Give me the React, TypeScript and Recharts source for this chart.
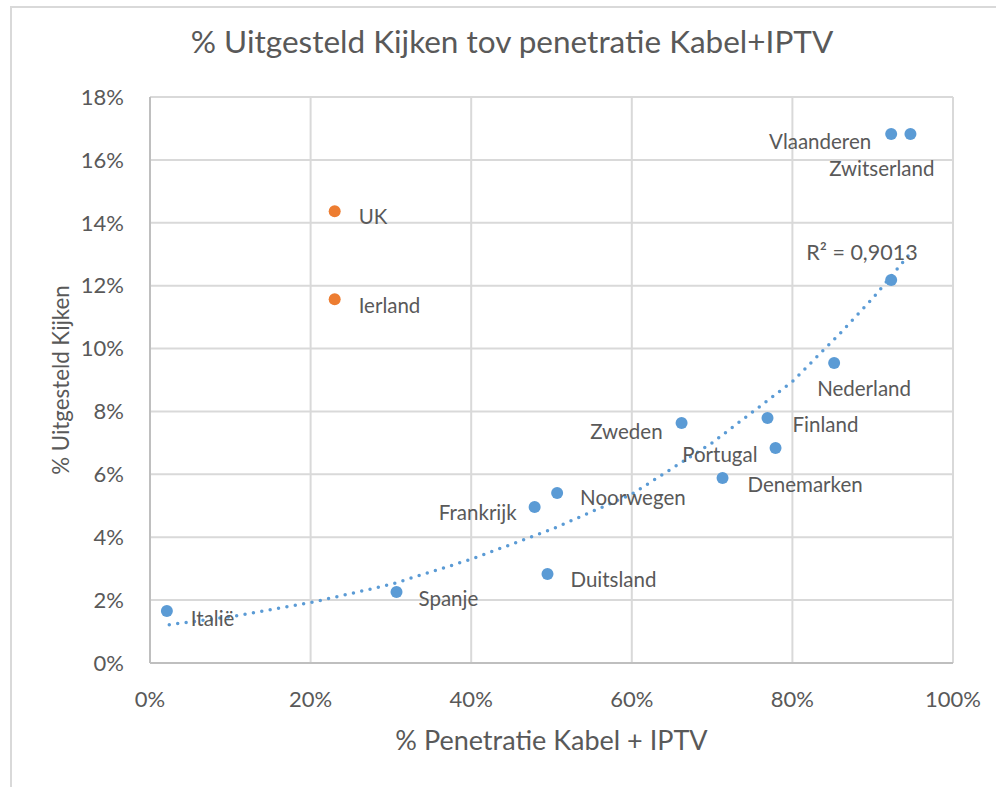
import { ScatterChart, Scatter, XAxis, YAxis, CartesianGrid } from 'recharts'

// blue series: countries on the trend
const countries = ['Italië', 'Spanje', 'Frankrijk', 'Noorwegen', 'Duitsland', 'Zweden', 'Denemarken', 'Finland', 'Portugal', 'Nederland', '', 'Vlaanderen', 'Zwitserland']
const penetratie = [2.1, 30.7, 47.9, 50.7, 49.5, 66.2, 71.3, 76.9, 77.9, 85.2, 92.3, 92.3, 94.7]
const uitgesteld = [1.65, 2.26, 4.96, 5.41, 2.83, 7.63, 5.88, 7.79, 6.84, 9.54, 12.18, 16.82, 16.82]

// orange series: outliers
const outliers = ['UK', 'Ierland']
const outlierPenetratie = [23.0, 23.0]
const outlierUitgesteld = [14.37, 11.57]

// dotted trend line
const trendX = [2.4, 10, 20, 30, 40, 50, 60, 70, 80, 86, 90, 94.6]
const trendY = [1.22, 1.47, 1.92, 2.5, 3.3, 4.25, 5.37, 7.0, 8.95, 10.5, 11.6, 13.0]
const r2Label = 'R² = 0,9013'

const xTicks = [0, 20, 40, 60, 80, 100]
const yTicks = [0, 2, 4, 6, 8, 10, 12, 14, 16, 18]

const BLUE = '#5b9bd5'
const ORANGE = '#ed7d31'
const TEXT = '#595959'
const FONT = 'Lato, "Noto Sans", sans-serif'

// label offsets from the marker centre: [dx, dy, anchor]
const placement: Record<string, [number, number, 'start' | 'end']> = {
  'Italië': [24, 7, 'start'],
  Spanje: [22, 6, 'start'],
  Frankrijk: [-18, 5, 'end'],
  Noorwegen: [23, 4, 'start'],
  Duitsland: [23, 5, 'start'],
  Zweden: [-19, 8, 'end'],
  Denemarken: [25, 6, 'start'],
  Finland: [25, 6, 'start'],
  Portugal: [-18, 6, 'end'],
  Nederland: [-17, 25, 'start'],
  Vlaanderen: [-20, 7, 'end'],
  Zwitserland: [24, 34, 'end'],
  UK: [24, 5, 'start'],
  Ierland: [24, 6, 'start'],
}

const blueData = countries.map((name, i) => ({ name, x: penetratie[i], y: uitgesteld[i] }))
const orangeData = outliers.map((name, i) => ({ name, x: outlierPenetratie[i], y: outlierUitgesteld[i] }))
const trendData = trendX.map((x, i) => ({ x, y: trendY[i] }))

const makeDot = (color: string) => (props: any) => {
  const { cx, cy, payload } = props
  const p = placement[payload.name]
  return (
    <g>
      <circle cx={cx} cy={cy} r={6} fill={color} />
      {p && (
        <text x={cx + p[0]} y={cy + p[1]} textAnchor={p[2]} dominantBaseline="central"
          fill={TEXT} fontSize={20.5} fontFamily={FONT}>
          {payload.name}
        </text>
      )}
    </g>
  )
}

const trendShape = (props: any) => {
  const { cx, cy, payload } = props
  if (payload.x !== trendX[trendX.length - 1]) return <g />
  return (
    <text x={cx + 8} y={cy - 2} textAnchor="end" dominantBaseline="central"
      fill={TEXT} fontSize={21.5} fontFamily={FONT}>
      {r2Label}
    </text>
  )
}

export default function App() {
  const tick = { fill: TEXT, fontSize: 22, fontFamily: FONT }
  return (
    <div style={{ position: 'absolute', left: 0, top: 0, width: 996, height: 787, overflow: 'hidden', background: '#fff' }}>
      <div style={{ position: 'absolute', left: 10, top: 6, width: 1100, height: 900, border: '2px solid #d9d9d9', boxSizing: 'border-box' }} />
      <div style={{ position: 'absolute', left: 0, top: 22, width: 1024, textAlign: 'center', color: TEXT, fontSize: 31.5, fontFamily: FONT }}>
        % Uitgesteld Kijken tov penetratie Kabel+IPTV
      </div>
      <div style={{ position: 'absolute', left: 150, width: 803, top: 723, textAlign: 'center', color: TEXT, fontSize: 27, fontFamily: FONT }}>
        % Penetratie Kabel + IPTV
      </div>
      <div style={{ position: 'absolute', left: 60, top: 380, transform: 'translate(-50%, -50%) rotate(-90deg)', whiteSpace: 'nowrap', color: TEXT, fontSize: 22.3, fontFamily: FONT }}>
        % Uitgesteld Kijken
      </div>
      <div style={{ position: 'absolute', left: 0, top: 0 }}>
        <ScatterChart width={996} height={787} margin={{ top: 97, right: 43, bottom: 84, left: 80 }}>
          <CartesianGrid stroke="#d9d9d9" strokeWidth={2} />
          <XAxis type="number" dataKey="x" domain={[0, 100]} ticks={xTicks} tickFormatter={(v) => `${v}%`}
            height={40} tick={tick} tickLine={false} axisLine={{ stroke: '#bfbfbf', strokeWidth: 2 }} tickMargin={22} />
          <YAxis type="number" dataKey="y" domain={[0, 18]} ticks={yTicks} tickFormatter={(v) => `${v}%`}
            width={70} tick={tick} tickLine={false} axisLine={{ stroke: '#bfbfbf', strokeWidth: 2 }} tickMargin={20} />
          <Scatter data={trendData} line={{ stroke: BLUE, strokeWidth: 3.5, strokeDasharray: '0 8.5', strokeLinecap: 'round' }}
            shape={trendShape} isAnimationActive={false} />
          <Scatter data={blueData} shape={makeDot(BLUE)} isAnimationActive={false} />
          <Scatter data={orangeData} shape={makeDot(ORANGE)} isAnimationActive={false} />
        </ScatterChart>
      </div>
    </div>
  )
}
